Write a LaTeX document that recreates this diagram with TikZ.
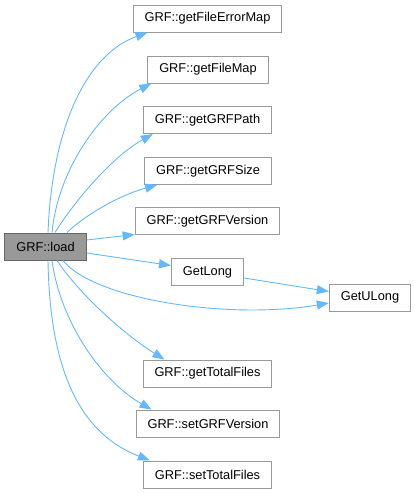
\documentclass[tikz,border=0pt]{standalone}
\usepackage{fontspec}
\setmainfont{Liberation Sans}
\usetikzlibrary{arrows.meta}
\definecolor{callblue}{HTML}{63B8FF}
\definecolor{boxline}{HTML}{999999}
\definecolor{curline}{HTML}{666666}
\definecolor{curfill}{HTML}{999999}

\begin{document}
\begin{tikzpicture}[x=1pt, y=-1pt, every node/.style={font=\fontsize{12.8}{15}\selectfont}, >={Triangle[length=12pt, width=9pt]}, fn/.style={draw=boxline, line width=1pt, fill=white, inner xsep=11.5pt, inner ysep=0pt, minimum height=27pt}, cur/.style={fn, draw=curline, fill=curfill}, call/.style={->, draw=callblue, line width=0.9pt, fill=none}]
	\useasboundingbox (0,0) rectangle (415,493);
	\node[cur] (load) at (45.5,246.5) {GRF::load};
	\node[fn] (efm) at (207.5,18.5) {GRF::getFileErrorMap};
	\node[fn] (fmap) at (208,69.5) {GRF::getFileMap};
	\node[fn] (path) at (207.5,120) {GRF::getGRFPath};
	\node[fn] (size) at (208,171) {GRF::getGRFSize};
	\node[fn] (version) at (207.5,221) {GRF::getGRFVersion};
	\node[fn] (getlong) at (207.5,272) {GetLong};
	\node[fn] (getulong) at (370,297.5) {GetULong};
	\node[fn] (total) at (207.5,373.5) {GRF::getTotalFiles};
	\node[fn] (setver) at (208,423.5) {GRF::setGRFVersion};
	\node[fn] (settotal) at (207.5,474.5) {GRF::setTotalFiles};
	\draw[call] ([xshift=2.5pt]load.north) .. controls (52,130) and (85,55) .. ([xshift=15pt]efm.south west);
	\draw[call] ([xshift=6.5pt]load.north) .. controls (58,170) and (100,110) .. ([xshift=4pt]fmap.south west);
	\draw[call] ([xshift=9.5pt]load.north) .. controls (72,205) and (110,158) .. ([xshift=10pt]path.south west);
	\draw[call] ([xshift=21.5pt]load.north) .. controls (85,215) and (120,195) .. ([xshift=13pt]size.south west);
	\draw[call] ([yshift=6.5pt]load.east) -- ([yshift=0.5pt]version.south west);
	\draw[call] ([yshift=-6.5pt]load.east) -- ([yshift=6.5pt]getlong.west);
	\draw[call] ([yshift=-6pt]getlong.east) -- ([yshift=6pt]getulong.west);
	\draw[call] ([xshift=17.5pt]load.south) .. controls (95,300) and (230,320) .. ([yshift=-5.5pt]getulong.west);
	\draw[call] ([xshift=11.5pt]load.south) .. controls (80,295) and (125,335) .. ([xshift=22pt]total.north west);
	\draw[call] ([xshift=6.5pt]load.south) .. controls (60,320) and (100,380) .. ([xshift=16pt]setver.north west);
	\draw[call] ([xshift=2.5pt]load.south) .. controls (50,380) and (85,435) .. ([xshift=7pt]settotal.north west);
\end{tikzpicture}
\end{document}
